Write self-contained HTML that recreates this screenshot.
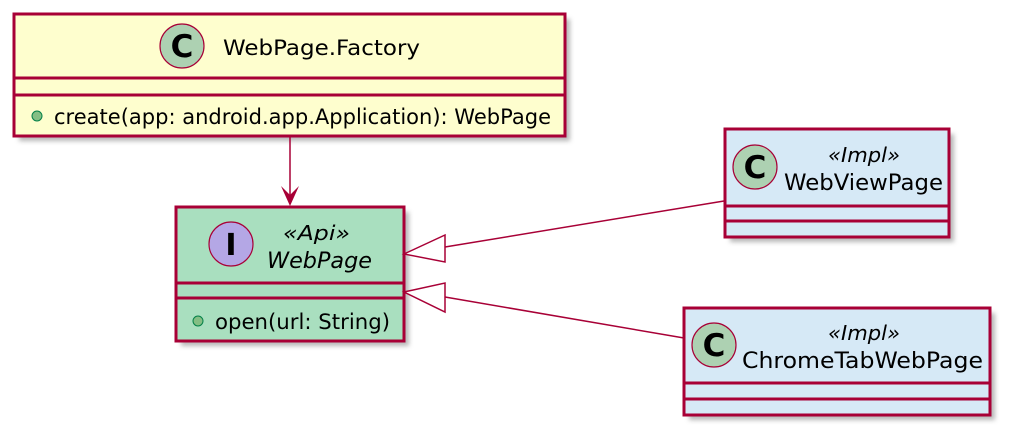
<!DOCTYPE html>
<html><head><meta charset="utf-8"><style>
html,body{margin:0;padding:0;background:#fff;}
svg{display:block;}
text{font-family:"DejaVu Sans","Liberation Sans",sans-serif;fill:#000;}
</style></head><body>
<svg width="1016" height="441" viewBox="0 0 1016 441" xmlns="http://www.w3.org/2000/svg">
<defs><filter id="sh" x="-10%" y="-10%" width="130%" height="140%"><feGaussianBlur stdDeviation="2.5"/></filter></defs>
<g fill="#999" opacity="0.7" filter="url(#sh)">
<rect x="19" y="19" width="551" height="122"/>
<rect x="181" y="212" width="228" height="134"/>
<rect x="730" y="134" width="224" height="108"/>
<rect x="689" y="313" width="306" height="107"/>
</g>
<!-- Factory -->
<rect x="14" y="14" width="551" height="122" fill="#FEFECE" stroke="#A80036" stroke-width="3"/>
<line x1="14" y1="78" x2="565" y2="78" stroke="#A80036" stroke-width="3"/>
<line x1="14" y1="95" x2="565" y2="95" stroke="#A80036" stroke-width="3"/>
<circle cx="182" cy="46" r="22" fill="#ADD1B2" stroke="#A80036" stroke-width="1.2"/>
<text x="182" y="57" font-size="31" font-weight="bold" text-anchor="middle" font-family="Liberation Sans,sans-serif">C</text>
<text x="223" y="55" font-size="21" textLength="197" lengthAdjust="spacingAndGlyphs">WebPage.Factory</text>
<circle cx="37" cy="116" r="5" fill="#84BE84" stroke="#038048" stroke-width="1"/>
<text x="54" y="124" font-size="21" textLength="497" lengthAdjust="spacingAndGlyphs">create(app: android.app.Application): WebPage</text>
<!-- arrow -->
<line x1="290" y1="136" x2="290" y2="204" stroke="#A80036" stroke-width="1.5"/>
<polygon points="290,206 281,186 290,195 299,186" fill="#A80036"/>
<!-- WebPage -->
<rect x="176" y="207" width="228" height="134" fill="#A9DFBF" stroke="#A80036" stroke-width="3"/>
<line x1="176" y1="283" x2="404" y2="283" stroke="#A80036" stroke-width="3"/>
<line x1="176" y1="298" x2="404" y2="298" stroke="#A80036" stroke-width="3"/>
<circle cx="231" cy="244" r="22" fill="#B4A7E5" stroke="#A80036" stroke-width="1.2"/>
<text x="231" y="255" font-size="30" font-weight="bold" text-anchor="middle" font-family="Liberation Mono,monospace">I</text>
<text x="283" y="240" font-size="20" font-style="italic" textLength="67" lengthAdjust="spacingAndGlyphs">«Api»</text>
<text x="267" y="268" font-size="22" font-style="italic" textLength="105" lengthAdjust="spacingAndGlyphs">WebPage</text>
<circle cx="198" cy="321" r="5" fill="#84BE84" stroke="#038048" stroke-width="1"/>
<text x="215" y="329" font-size="21" textLength="175" lengthAdjust="spacingAndGlyphs">open(url: String)</text>
<!-- generalizations -->
<line x1="445" y1="247" x2="724" y2="201" stroke="#A80036" stroke-width="1.5"/>
<polygon points="404,254 445,235 445,262" fill="#fff" stroke="#A80036" stroke-width="1.5"/>
<line x1="445" y1="297" x2="684" y2="338" stroke="#A80036" stroke-width="1.5"/>
<polygon points="404,292 445,283 445,312" fill="#fff" stroke="#A80036" stroke-width="1.5"/>
<!-- WebViewPage -->
<rect x="725" y="129" width="224" height="108" fill="#D6E9F6" stroke="#A80036" stroke-width="3"/>
<line x1="725" y1="206" x2="949" y2="206" stroke="#A80036" stroke-width="3"/>
<line x1="725" y1="221" x2="949" y2="221" stroke="#A80036" stroke-width="3"/>
<circle cx="755" cy="167" r="22" fill="#ADD1B2" stroke="#A80036" stroke-width="1.2"/>
<text x="755" y="178" font-size="31" font-weight="bold" text-anchor="middle" font-family="Liberation Sans,sans-serif">C</text>
<text x="828" y="162" font-size="20" font-style="italic" textLength="72" lengthAdjust="spacingAndGlyphs">«Impl»</text>
<text x="784" y="190" font-size="22" textLength="159" lengthAdjust="spacingAndGlyphs">WebViewPage</text>
<!-- ChromeTabWebPage -->
<rect x="684" y="308" width="306" height="107" fill="#D6E9F6" stroke="#A80036" stroke-width="3"/>
<line x1="684" y1="383" x2="990" y2="383" stroke="#A80036" stroke-width="3"/>
<line x1="684" y1="399" x2="990" y2="399" stroke="#A80036" stroke-width="3"/>
<circle cx="714" cy="345" r="22" fill="#ADD1B2" stroke="#A80036" stroke-width="1.2"/>
<text x="714" y="356" font-size="31" font-weight="bold" text-anchor="middle" font-family="Liberation Sans,sans-serif">C</text>
<text x="828" y="340" font-size="20" font-style="italic" textLength="72" lengthAdjust="spacingAndGlyphs">«Impl»</text>
<text x="742" y="368" font-size="22" textLength="241" lengthAdjust="spacingAndGlyphs">ChromeTabWebPage</text>
</svg>
</body></html>
